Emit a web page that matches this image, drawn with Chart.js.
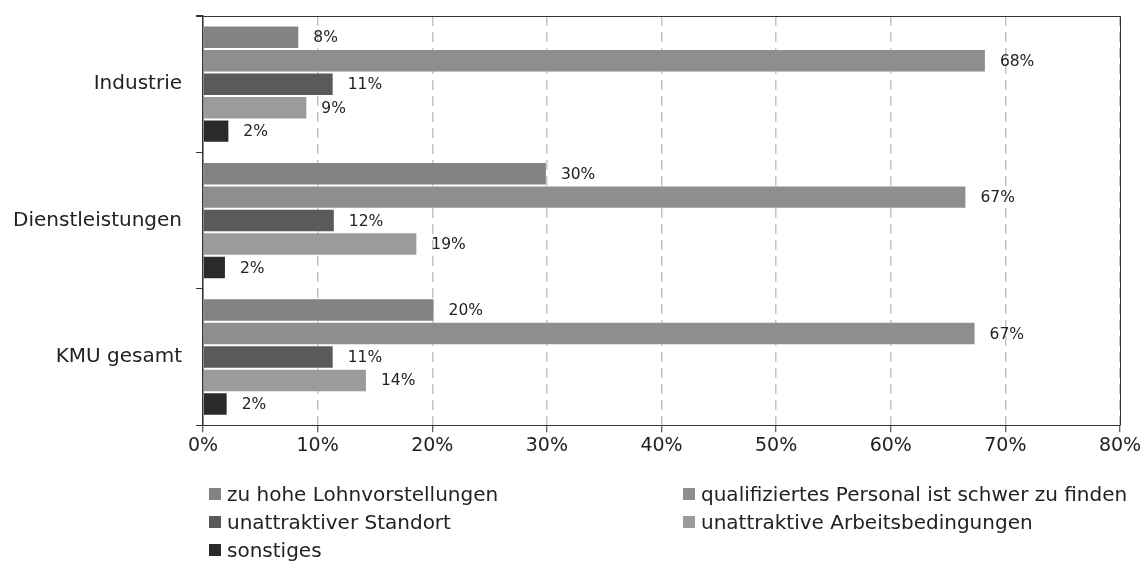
<!DOCTYPE html>
<html>
<head>
<meta charset="utf-8">
<script src="https://cdn.jsdelivr.net/npm/chart.js@4/dist/chart.umd.min.js"></script>
<style>
  body { margin: 0; background: #fff; }
  #wrap { position: relative; width: 1144px; height: 576px; }
  #legend { position: absolute; left: 209px; top: 483px; width: 935px;
            display: grid; grid-template-columns: 474px auto; row-gap: 6px;
            font-family: "DejaVu Sans"; font-size: 20px; color: #222; }
  #legend div { display: flex; align-items: center; height: 22px; white-space: nowrap; }
  #legend span.box { display: inline-block; width: 12px; height: 12px; margin-right: 6px; }
</style>
</head>
<body>
<div id="wrap">
  <canvas id="chart" width="1144" height="576"></canvas>
  <div id="legend"></div>
</div>
<script>
// --- DATA ---
const categories = ['Industrie', 'Dienstleistungen', 'KMU gesamt'];
const seriesNames = [
    'zu hohe Lohnvorstellungen',
    'qualifiziertes Personal ist schwer zu finden',
    'unattraktiver Standort',
    'unattraktive Arbeitsbedingungen',
    'sonstiges'
];
const lohnValues = [8.4, 30.0, 20.2];
const personalValues = [68.3, 66.6, 67.4];
const standortValues = [11.4, 11.5, 11.4];
const arbeitValues = [9.1, 18.7, 14.3];
const sonstigesValues = [2.3, 2.0, 2.15];
const xTicks = [0, 10, 20, 30, 40, 50, 60, 70, 80];

const seriesColors = ['#838383', '#8e8e8e', '#5a5a5a', '#9b9b9b', '#2a2a2a'];
const allValues = [lohnValues, personalValues, standortValues, arbeitValues, sonstigesValues];

// --- value labels next to bar ends ---
const barLabels = {
    id: 'barLabels',
    afterDatasetsDraw(chart) {
        const ctx = chart.ctx;
        ctx.save();
        ctx.font = '15.5px "DejaVu Sans"';
        ctx.fillStyle = '#222';
        ctx.textAlign = 'left';
        ctx.textBaseline = 'middle';
        chart.data.datasets.forEach((ds, i) => {
            chart.getDatasetMeta(i).data.forEach((bar, j) => {
                ctx.fillText(Math.round(ds.data[j]) + '%', bar.x + 14, bar.y + 1);
            });
        });
        ctx.restore();
    }
};

// --- top / right frame of the plot area ---
const frame = {
    id: 'frame',
    afterDraw(chart) {
        const a = chart.chartArea;
        const ctx = chart.ctx;
        ctx.save();
        ctx.strokeStyle = '#333';
        ctx.lineWidth = 1;
        ctx.beginPath();
        ctx.moveTo(a.left - 7, a.top + 0.5);
        ctx.lineTo(a.right + 0.5, a.top + 0.5);
        ctx.lineTo(a.right + 0.5, a.bottom);
        ctx.stroke();
        ctx.restore();
    }
};

const ctx = document.getElementById('chart').getContext('2d');
new Chart(ctx, {
    type: 'bar',
    data: {
        labels: categories,
        datasets: seriesNames.map((name, i) => ({
            label: name,
            data: allValues[i],
            backgroundColor: seriesColors[i],
            borderColor: 'rgba(255,255,255,0.2)',
            borderWidth: 1,
            categoryPercentage: 0.86,
            barPercentage: 1.0
        }))
    },
    options: {
        indexAxis: 'y',
        responsive: false,
        animation: false,
        layout: { padding: { top: 16, right: 24, left: 0, bottom: 117 } },
        plugins: { legend: { display: false }, tooltip: { enabled: false } },
        scales: {
            x: {
                min: 0, max: 80,
                afterBuildTicks(scale) { scale.ticks = xTicks.map(v => ({ value: v })); },
                ticks: {
                    callback: v => v + '%',
                    color: '#222',
                    font: { family: 'DejaVu Sans', size: 19 },
                    padding: 2,
                    maxRotation: 0
                },
                grid: { color: '#c4c4c4', lineWidth: 1.5, tickColor: '#333', tickLength: 7, tickWidth: 1 },
                border: { color: '#333', width: 1, dash: [10, 6] }
            },
            y: {
                afterFit(scale) {
                    scale.width = 203;
                    scale.paddingTop = 0;
                    scale.paddingBottom = 0;
                },
                ticks: {
                    color: '#222',
                    font: { family: 'DejaVu Sans', size: 20 },
                    padding: 14
                },
                grid: { drawOnChartArea: false, tickColor: '#333', tickLength: 7 },
                border: { color: '#333', width: 1.5 }
            }
        }
    },
    plugins: [barLabels, frame]
});

// --- legend (two columns, like the original) ---
const legend = document.getElementById('legend');
seriesNames.forEach((name, i) => {
    const item = document.createElement('div');
    item.innerHTML = '<span class="box" style="background:' + seriesColors[i] + '"></span>' + name;
    legend.appendChild(item);
});
</script>
</body>
</html>
